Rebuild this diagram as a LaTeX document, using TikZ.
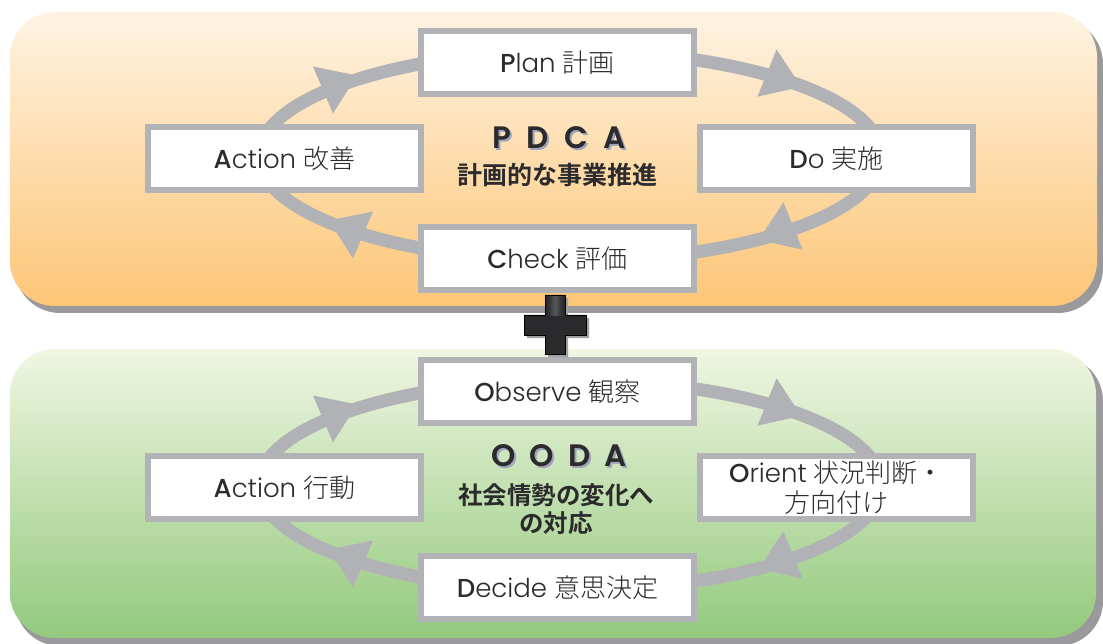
\documentclass[tikz,border=0pt]{standalone}
\usepackage{fontspec}
\setmainfont{Poppins}[UprightFont={* Light}, BoldFont={* Medium}]
\newfontfamily\titlefont{Poppins}[UprightFont={* SemiBold}]
\newfontfamily\jpfont{Noto Sans CJK JP}[UprightFont={* Light}, BoldFont={* Bold}]
\definecolor{bandgray}{HTML}{B1B2B5}
\definecolor{boxgray}{HTML}{B2B3B6}
\definecolor{orTop}{HTML}{FEF3E3}
\definecolor{orBot}{HTML}{FDC677}
\definecolor{grTop}{HTML}{F0F6E2}
\definecolor{grBot}{HTML}{93C97D}
\definecolor{panelshadow}{HTML}{9A9A9C}
\definecolor{txt}{HTML}{2B2A2C}
\definecolor{plusdark}{HTML}{2A292B}
\definecolor{plusmid}{HTML}{55575A}
\definecolor{plusshadow}{HTML}{A0A0A2}
\definecolor{titleshadow}{HTML}{9EA4BA}
\tikzset{
  stepbox/.style={draw=boxgray, line width=6pt, fill=white, minimum width=273pt,
    minimum height=63pt, inner sep=0pt, align=center,
    font=\fontsize{26}{30}\selectfont, text=txt},
  band/.style={draw=bandgray, line width=13pt},
  panel/.style={rounded corners=45pt},
  titletext/.style={font=\titlefont\fontsize{31}{36}\selectfont, text=txt, inner sep=0pt},
  titleshade/.style={font=\titlefont\fontsize{31}{36}\selectfont, text=titleshadow, inner sep=0pt},
  subtext/.style={font=\jpfont\bfseries\fontsize{25}{28}\selectfont, text=txt, align=center, inner sep=0pt},
  arrowhd/.pic={\fill[bandgray] (0,-25.5) -- (37,0) -- (0,25.5) -- cycle;}
}
\newcommand{\jt}[1]{{\jpfont #1}}
\begin{document}
\begin{tikzpicture}[x=1pt,y=-1pt]
\useasboundingbox (0,0) rectangle (1103,644);
% panels
\fill[panelshadow, panel] (15,19) rectangle (1103,313);
\shade[top color=orTop, bottom color=orBot, panel] (10,12) rectangle (1097,306);
\fill[panelshadow, panel] (15,356) rectangle (1103,646);
\shade[top color=grTop, bottom color=grBot, panel] (10,349) rectangle (1096,638);
% PDCA cycle
\coordinate (pcen) at (570,156);
\draw[band] (pcen) ellipse [x radius=311pt, y radius=105pt];
\pic[rotate=23] at (323,90) {arrowhd};
\pic[rotate=-22] at (767,73) {arrowhd};
\pic[rotate=157] at (363,235) {arrowhd};
\pic[rotate=202] at (793,226) {arrowhd};
\node[stepbox] (plan) at (557.5,62.5) {\textbf{P}lan \jt{計画}};
\node[stepbox] (act1) at (284.5,158.5) {\textbf{A}ction \jt{改善}};
\node[stepbox] (do) at (836.5,158.5) {\textbf{D}o \jt{実施}};
\node[stepbox] (check) at (557.5,259) {\textbf{C}heck \jt{評価}};
\node[titleshade] (pdcash) at (561,139.5) {P\hspace{.5em}D\hspace{.5em}C\hspace{.5em}A};
\node[titletext] (pdca) at (559,137.5) {P\hspace{.5em}D\hspace{.5em}C\hspace{.5em}A};
\node[subtext] (pdcasub) at (557,175) {計画的な事業推進};
% OODA cycle
\coordinate (ocen) at (570,485);
\draw[band] (ocen) ellipse [x radius=311pt, y radius=105pt];
\pic[rotate=23] at (323,419) {arrowhd};
\pic[rotate=-22] at (767,402) {arrowhd};
\pic[rotate=157] at (363,564) {arrowhd};
\pic[rotate=202] at (793,555) {arrowhd};
\node[stepbox] (obs) at (557.5,391.5) {\textbf{O}bserve \jt{観察}};
\node[stepbox] (act2) at (284.5,487.5) {\textbf{A}ction \jt{行動}};
\node[stepbox] (ori) at (836.5,487.5) {\textbf{O}rient \jt{状況判断・}\\\jt{方向付け}};
\node[stepbox] (dec) at (557.5,587.5) {\textbf{D}ecide \jt{意思決定}};
\node[titleshade] (oodash) at (561,458) {O\hspace{.45em}O\hspace{.45em}D\hspace{.45em}A};
\node[titletext] (ooda) at (559,456) {O\hspace{.45em}O\hspace{.45em}D\hspace{.45em}A};
\node[subtext, font=\jpfont\bfseries\fontsize{24.5}{28}\selectfont] (oodasub) at (556,509) {社会情勢の変化へ\\の対応};
% plus sign
\begin{scope}[shift={(558,328)}]
\fill[plusshadow] (-10,-30) -- (10,-30) -- (10,-10) -- (31,-10) -- (31,10) -- (10,10) -- (10,29) -- (-10,29) -- (-10,10) -- (-31,10) -- (-31,-10) -- (-10,-10) -- cycle;
\end{scope}
\begin{scope}[shift={(555,325)}]
\fill[plusdark, draw=black, line width=0.8pt] (-10,-30) -- (10,-30) -- (10,-10) -- (31,-10) -- (31,10) -- (10,10) -- (10,29) -- (-10,29) -- (-10,10) -- (-31,10) -- (-31,-10) -- (-10,-10) -- cycle;
\shade[left color=plusdark, right color=plusdark, middle color=plusmid] (-8,-28) rectangle (8,-9);
\end{scope}
\end{tikzpicture}
\end{document}
